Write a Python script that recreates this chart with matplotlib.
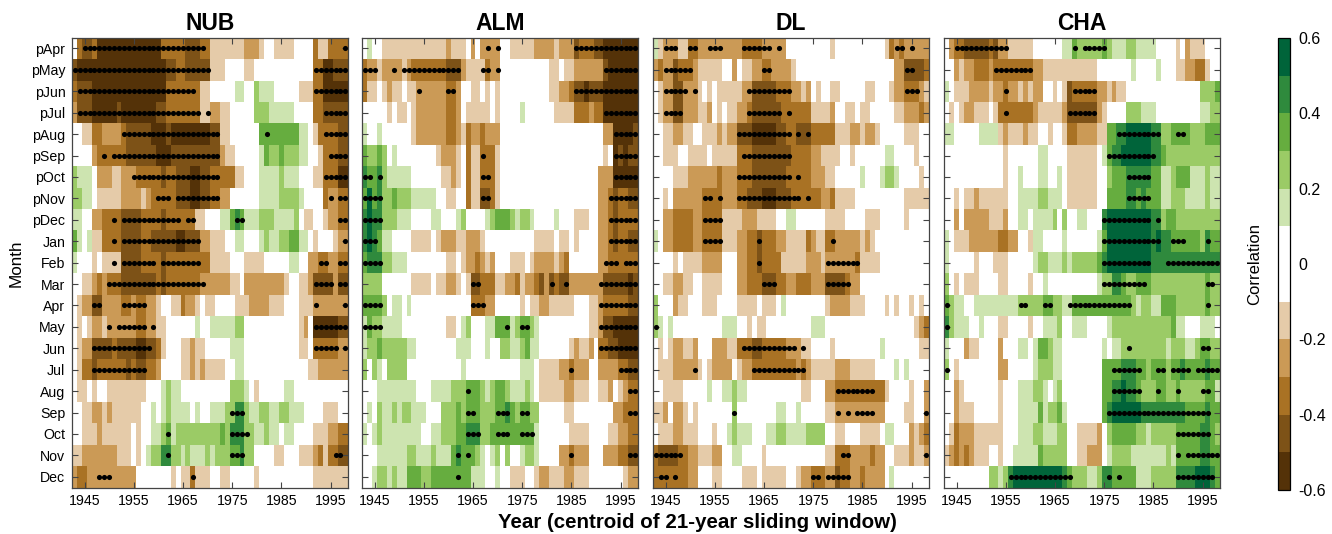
import numpy as np
import matplotlib
matplotlib.use("Agg")
import matplotlib.pyplot as plt
from matplotlib.colors import ListedColormap, BoundaryNorm
from matplotlib.cm import ScalarMappable

plt.rcParams["font.family"] = ["Liberation Sans", "DejaVu Sans"]

MONTHS = ["pApr", "pMay", "pJun", "pJul", "pAug", "pSep", "pOct", "pNov", "pDec", "Jan", "Feb",
          "Mar", "Apr", "May", "Jun", "Jul", "Aug", "Sep", "Oct", "Nov", "Dec"]
YEARS = np.arange(1943, 1999)
XTICKS = [1945, 1955, 1965, 1975, 1985, 1995]
PANELS = ["NUB", "ALM", "DL", "CHA"]

# correlation class of each letter (bin middle), "." = not coloured
LEVELS = {"e": -0.55, "d": -0.45, "c": -0.35, "b": -0.25, "a": -0.15, ".": 0.0,
          "A": 0.15, "B": 0.25, "C": 0.35, "D": 0.45, "E": 0.55}
BOUNDS = [-0.6, -0.5, -0.4, -0.3, -0.2, -0.1, 0.1, 0.2, 0.3, 0.4, 0.5, 0.6]
COLORS = ["#543208", "#7d5217", "#a97224", "#cb9a56", "#e5cba9", "#ffffff",
          "#cde4b0", "#9bcb66", "#66ad3f", "#2f8a3d", "#00643a"]
CBAR_TICKS = [-0.6, -0.4, -0.2, 0, 0.2, 0.4, 0.6]
CBAR_LABELS = ["-0.6", "-0.4", "-0.2", "0", "0.2", "0.4", "0.6"]

# each row: "<two digit year><class>" = class holds from that year on
NUB_CELLS = [
    "43. 44c 45d 47c 48e 61c 66d 69c 71a 78b 81a 82. 84a 88. 92c 93a 95c",
    "43d 44e 62d 64c 66d 71a 74. 78a 80. 92c 94e 96d",
    "43c 44d 47e 62c 69a 71. 76A 78. 80B 81A 84. 89a 92c 94e",
    "43b 44d 47e 52d 53e 60d 62c 69a 71b 73a 75. 80B 83A 88. 92c 94d",
    "43. 45a 47c 49b 53c 54d 59e 62d 63e 71d 73a 75. 81C 89A 91. 92a 93c 97d",
    "43. 47b 48c 54d 60e 63d 73b 74a 76. 81A 82C 83B 85C 86B 89A 91. 93a 94c 97d",
    "43B 44A 47. 48b 51a 53b 56c 61d 62c 64d 67e 69d 71c 76a 78. 81A 85B 86A 89. 92a 94c 97e",
    "43B 45A 47. 48a 53b 57a 58b 59c 64d 67e 69d 71c 73b 75. 81A 85B 89A 90. 94c 95b 97c",
    "43A 45. 47b 49c 53d 57c 61d 62c 68a 70. 73A 75C 76D 77C 78A 81B 84A 88B 89. 90a 92. 94a 95b 97c",
    "43C 44A 45. 46A 47a 49c 53d 57c 59d 64e 66d 69b 71a 74. 76A 78. 81A 82B 83A 85B 87C 89A 91. 92a 93. 96a 97b",
    "43A 44. 47a 48. 49a 53d 57c 61d 62c 71a 75. 78a 82. 87A 89. 91b 93c 95b 97c",
    "43. 45a 47b 48c 49b 50c 53d 60c 61d 62c 69b 75a 77. 78b 86a 87. 89a 91b 92d 96b 97d",
    "43. 44a 45b 47d 49b 53c 55b 56c 58b 60a 61. 63a 65c 66b 68a 69. 70a 72. 76a 79b 83a 86. 89a 92b",
    "43. 44a 45. 46a 47b 49a 50b 56c 58b 60a 62. 68A 69. 71A 76B 78. 89a 90b 91. 92e 97d",
    "43. 44a 45b 47d 51c 52d 56e 58d 60c 61a 62. 65a 67b 68a 70. 75A 78. 89a 91. 92c 97b",
    "43. 44a 45c 47d 48c 54d 55c 56d 58c 60b 61. 65a 67b 68a 69b 70a 74. 76A 78. 91a 93b",
    "43. 44a 46. 47a 48. 50a 58. 61A 62B 63A 65. 75B 78A 79. 80a 81. 86A 88.",
    "43. 45a 47b 49a 50b 51a 57. 59A 60. 61A 62B 63A 67. 68A 69. 71A 74B 76D 78B 79A 81B 83A 85B 87A 90. 94a 97.",
    "43. 45a 48b 49a 55. 56a 57. 59A 61B 62C 63A 64B 68B 73C 74B 75D 78B 80A 82B 83A 85. 86A 88. 92a 95b 97c",
    "43a 45b 52a 55. 56a 57. 58A 59B 61D 63B 65A 66B 67A 70B 71A 72B 75C 77D 78B 80. 84a 86. 89a 92b 93c 94a 95c 97d",
    "43b 44c 46b 56. 63a 64. 65a 67c 68a 71. 73a 75. 80a 81. 92a",
]
NUB_DOTS = [
    "45-69 98", "43-70 92-98", "44-67 92-98", "44-68 70 94-98", "53-72 82 94-98",
    "49 51-72 95-98", "55-72 94-98", "60-62 64-72 95 97-98", "51 53-64 66-67 76-77 97-98",
    "51 53-68 98", "51 53-59 61-68 93-94 97-98", "50-69 92-95 97-98", "47-48 53-57 92 98",
    "50 52-57 59 92-98", "47-58 92-96 98", "47-57", "", "75-77", "62 75-78", "62 75-77 96-97",
    "48-50 67",
]

ALM_CELLS = [
    "43. 44A 45. 47a 60b 61a 64. 65b 66. 67b 71. 73a 78b 82a 83b 86d 87c 90d 92e",
    "43c 44b 46a 47b 51a 52b 53c 60d 63b 64a 68c 69b 71. 81a 83. 84a 86b 92d 93e",
    "43c 44a 46. 47a 48b 49a 51. 52a 54b 60c 62b 63. 65a 67. 68a 69. 70a 71. 81a 83b 85c 86d 88e 89d 92e",
    "43. 48a 49. 50a 52. 53a 54b 60c 62b 63. 64a 69. 70a 71. 75A 76. 82a 86c 89b 90c 92e",
    "43A 44. 46A 47. 53a 54b 60c 62b 63a 64c 65b 67c 68b 71. 92b 94e 98d",
    "43C 44B 46C 47B 48. 49A 50. 58a 59b 62a 63. 64c 65a 67c 70a 71. 92a 93. 94e 95d 96e 97d",
    "43D 44C 46D 47B 48A 53. 59a 61b 62a 63. 64c 65a 67c 70a 71. 91b 94e",
    "43C 44E 45C 46D 47B 49C 50B 53A 58. 60a 62. 64c 65a 67d 69c 70a 71. 91b 93c 94d 95c 97d",
    "43D 44E 45D 47B 50A 53. 57A 59. 62A 63B 64. 68A 69B 70C 73B 74A 75B 77A 78. 82A 83. 86a 89. 91b 93c 94d 95c",
    "43D 44E 45D 46C 47A 49. 53a 57. 58a 59b 62a 64b 67a 68. 78a 82. 83a 85. 86a 87. 91b 93c 94d 95c 97d",
    "43C 44D 47B 49A 52. 60a 62. 63a 64b 66c 67b 68a 69b 70. 73a 76. 77a 78b 82a 83b 84c 85. 91b 93c",
    "43B 47. 53a 57. 58a 60b 62a 63. 64a 65d 67c 70a 72b 74c 75a 76b 78c 79d 80b 81d 82c 83d 85b 92d 97e 98d",
    "43C 47B 48. 49A 51. 52A 53. 65c 68b 70. 75a 76. 77a 79b 81a 86. 89a 91b 92c 97d",
    "43A 44C 45B 47A 51. 60a 62. 63A 64B 65. 68A 70C 73A 74B 75C 77B 78A 79. 89a 91b 92d 94e",
    "43A 44B 46C 47B 52A 54. 62A 65. 68A 69. 71B 73A 75B 76C 77A 79. 85a 86b 87a 89b 90. 91c 93d 95e",
    "43B 44. 45B 46A 47. 48B 52. 63A 64. 75A 78. 79a 83b 85c 86b 89. 91b 95c 97d",
    "43. 46A 54. 57A 61B 64C 67B 68A 69B 70C 72B 73A 76B 77A 78. 79a 84b 86a 89. 91a 93b 94. 95a 96b 97c",
    "43. 44A 45. 46B 47A 49B 50A 51B 53A 56. 59B 62C 63B 64C 67B 70C 72D 73C 74B 75C 77B 79. 84a 86. 94b 96c",
    "43A 44. 45A 46B 47A 55. 57A 59B 62C 64D 67B 69C 78A 79. 85a 89. 93a 95b 97c",
    "43. 46A 52B 54A 57B 58A 61C 62D 63C 66B 67A 68. 69A 70B 71. 72B 73. 75A 76B 78A 79. 83b 85c 86b 89. 92b 95c 97d",
    "43. 45A 46B 48A 49B 50A 52C 55B 57C 65A 68. 70A 71. 73a 76. 78a 79b 81a 84b 86a 89. 96a 97b",
]
ALM_DOTS = [
    "68 70 86-98", "43-45 49 51-62 67-68 70 92-98", "54 60-61 86-98", "92-98", "94-98",
    "67 94-98", "43-44 46 67-68 94-98", "43-46 67-68 93-98", "43-46 93-98", "43-45 93-98",
    "43-46 92-94 96-98", "65-66 81 84 91-98", "43-46 65-67 91-98", "43-46 72 75-76 91-98",
    "91-98", "85 95-98", "64 97-98", "64-65 70-72 75-76 97-98", "64-66 70-72 75-77",
    "62 64 85 97-98", "62",
]

DL_CELLS = [
    "43A 44a 45b 48a 50c 52b 61c 65b 70. 79a 80. 90a 91c 92b 93c 94b",
    "43b 44c 45b 47d 48c 51b 52a 57. 59b 60. 61a 63b 65c 67b 71a 72. 92b 94d 98c",
    "43. 44a 45b 47d 49b 52a 53. 54a 55. 56a 61b 63d 68c 71b 73a 74b 75. 76a 77. 79a 81. 86a 88. 91a 92b 94c 97b 98a",
    "43. 44a 45b 47d 49b 52a 54b 55. 56a 57. 58a 60b 62c 63d 69c 75a 79b 80. 82a 84. 85a 87. 92a 94b 97c 98b",
    "43. 45a 47b 49a 51. 53a 56b 57a 58b 60d 63e 68d 70c 72d 75c 80a 83b 85a 86b 88a 89. 94a 97.",
    "43. 45a 48. 50a 54. 55a 60c 63d 71c 75b 77a 79a 81. 83a 84. 90A 92. 96a 97.",
    "43. 47a 50b 56c 57b 60c 63d 70c 75b 78a 80. 85A 86. 89A 90B 92A 93. 97a 98.",
    "43. 45a 46. 47b 53c 57b 60c 62d 65e 68d 71c 77b 79c 80a 84. 94a",
    "43. 45b 47c 51b 53c 57a 61b 64a 68. 70A 72. 78a 82. 86a 89. 94a 95.",
    "43A 44. 45b 47c 51b 53c 57a 60b 62c 64d 65c 68b 70a 74c 75b 76a 78c 80b 85a 86b 87a 88.",
    "43. 47a 48. 49a 53b 57. 60b 62c 64d 65c 69a 74b 77a 78b 84c 85a 89.",
    "43. 45a 47b 49a 51. 53a 57. 60b 62c 65d 68c 70b 72c 75b 78d 82c 83b 85.",
    "43B 44. 47b 48a 50. 53a 56. 60a 64. 65a 68. 69A 70. 78a 79b 83a 86. 90a 91. 92a 93. 95a 96. 97a 98.",
    "43B 44A 45. 46A 47. 57A 60. 62a 63. 64a 66. 75A 78. 96a 97b 98c",
    "43. 44a 45. 46a 47b 49a 51b 52. 55b 58a 60c 63d 65c 70b 73a 75. 79a 80. 89A 90. 97a",
    "43. 44a 47b 52a 53. 54a 55b 59. 60a 61b 63c 72b 73c 74b 75a 80b 83a 88. 92A 93. 94A 95.",
    "43. 45a 49. 54A 55. 57A 59B 60A 62. 73a 75. 78b 80c 90a 91. 95a 96. 98b",
    "43a 45b 46. 47b 49a 50. 51a 52. 59B 60. 68A 70. 72A 73. 78a 80b 90. 94a 96. 98b",
    "43. 44a 47b 49a 52. 55a 56. 58A 59B 60A 63. 66A 68B 70A 74B 78. 80a 82. 85a 89. 90A 92. 95b 96a 97b 98c",
    "43c 44d 48c 50b 52a 55b 57. 59A 61. 65a 66. 78a 80c 83b 87c 88b 90. 92a 95b 96a 98b",
    "43c 50b 52. 55a 57. 61a 64. 65a 70. 72a 73b 75c 78b 80d 81c 83b 85c 86b 90. 91A 92.",
]
DL_DOTS = [
    "45-47 50-51 54-56 61-66 68 92-93 95", "45-50 65-66 94-95", "45-49 51 62-70 94-96",
    "45-48 62-68 70", "60-70 72 74", "61-70", "60-70 72", "53-54 56 60-72 74", "53-56",
    "53-56 64 79", "64 78-84", "65-67 78-82", "", "43", "61-71 73", "51 63-73", "80-87",
    "59 80 82 84-87 98", "", "43-48 81-82 98", "44-45 47 75-76 78-82",
]

CHA_CELLS = [
    "43. 44b 45c 47d 52c 53d 54b 56a 61. 67A 69C 70B 75C 76B 77A 80B 82A 86. 90a 91. 92b 93a 96.",
    "43. 45b 46a 47b 49c 52b 53c 61b 63a 74. 81A 82. 86A 87. 90a 92b 94c 96a 97.",
    "43A 44. 45a 48b 52a 53b 55c 56b 58a 59b 60a 61b 63. 65a 66. 67a 68d 69c 74b 76a 77b 78a 80. 95B 98C",
    "43. 44a 45. 46a 47b 49a 52. 53a 54c 61b 62a 67b 68d 74b 75a 76. 80B 83A 86. 95A 97B",
    "43A 45. 50A 54a 55b 56a 59b 60a 62. 64a 65. 67a 68c 70b 74a 76C 78D 80E 85D 87B 89C 93B 96C",
    "43. 55a 56. 62A 64. 68a 74. 75A 76C 77D 79E 85D 87C 88B",
    "43. 55a 56. 58A 59. 62A 64. 66A 67. 68a 74. 76B 77C 80D 85C 87A 89B 90C 93A 96B 97A",
    "43. 45a 46. 47a 49b 50a 56. 58A 62B 64A 67. 68a 74. 76C 80D 82C 83D 84C 87A 89B 92A 96B 97A",
    "43. 45b 46. 47b 52a 55b 56. 58A 60. 61A 65B 66. 67B 68. 70A 72. 75D 76E 85D 87B 88C 90B",
    "43A 44. 45a 48b 54c 56b 58. 60a 61A 63. 67A 68. 74A 75C 76E 85D 86E 87D 89C 95B 96D 97C",
    "43A 44. 49a 50. 53a 56. 61A 62B 64A 67B 68A 69B 74C 75D 76E 85D",
    "43B 44. 45a 46. 47a 50. 54a 56. 60a 61. 63A 64. 74A 75B 77D 79C 80B 82C 85B 96C 97B",
    "43C 44B 45A 47. 49A 58B 63C 65B 67A 69C 81B 82A 83B 85A 87C 90B 96C 97B",
    "43D 44B 45A 48. 50A 51. 54a 56. 60a 61. 63A 66B 67. 69A 72. 76A 77B 89C 90A 92. 95A 98.",
    "43A 44. 47b 48a 50. 54b 55. 58A 60. 61A 62C 64B 65A 67. 75A 76. 77A 79B 88A 89B 92A 94B 95C 97B",
    "43B 44. 45a 46. 54b 56. 61A 62B 65A 67. 75C 79D 82C 84B 85C 88B 89C 91D 92C 96D 97C",
    "43. 45b 46a 47. 54a 55. 58A 61B 63A 64. 65A 66B 67. 75C 77D 79E 80D 82C 83B 86C 88B 90C 91B 96C 98A",
    "43. 45b 46a 49. 54a 55. 58A 62C 63A 64B 66C 67A 68. 75C 76D 77E 83D 92C 96D 97C",
    "43. 44a 45c 46b 49a 55. 58A 61B 63A 66B 68. 70a 74b 75. 76B 77C 82B 84A 85B 90C 95D 97C 98B",
    "43a 44b 45c 46b 47c 48b 49a 52. 54a 55. 57A 62C 63B 68. 70a 72b 75. 76A 77B 81A 88B 89A 90C 95D 97C",
    "43. 52B 54A 55B 56D 57E 67D 68C 69B 72A 74B 75D 77C 82A 85B 90D 94E 97D 98C",
]
CHA_DOTS = [
    "45-55 69 71-75", "53-60", "55 69-73", "55 68-73", "78-86 90-91", "76-85", "80-84",
    "80-84", "75-84 86", "75-86 89-91 96", "75-84 88-98", "75-83 96-97",
    "43 58-59 63-64 68-80 96", "43", "80 95-96", "43 77-82 86-87 89-92 94-98",
    "77-82 86 90 95-96", "76-96", "90-96", "90 92-98", "56-68 76 78 90-97",
]

ALL_CELLS = [NUB_CELLS, ALM_CELLS, DL_CELLS, CHA_CELLS]
ALL_DOTS = [NUB_DOTS, ALM_DOTS, DL_DOTS, CHA_DOTS]


def cells_to_grid(rows):
    grid = np.zeros((len(rows), len(YEARS)))
    for i, row in enumerate(rows):
        for token in row.split():
            start = 1900 + int(token[:2])
            grid[i, YEARS >= start] = LEVELS[token[2]]
    return grid


def dots_to_points(rows):
    xs = []
    ys = []
    for i, row in enumerate(rows):
        for part in row.split():
            first, _, last = part.partition("-")
            last = last or first
            for year in range(1900 + int(first), 1900 + int(last) + 1):
                xs.append(year)
                ys.append(i)
    return xs, ys


W, H = 1332, 534
fig = plt.figure(figsize=(W / 100, H / 100), dpi=100)
cmap = ListedColormap(COLORS)
norm = BoundaryNorm(BOUNDS, cmap.N)

lefts = [72.3, 362.3, 653.3, 944.3]
top, bottom = 37.7, 487.5
panel_w = 275.5

for k, name in enumerate(PANELS):
    ax = fig.add_axes([lefts[k] / W, 1 - bottom / H, panel_w / W, (bottom - top) / H])
    grid = cells_to_grid(ALL_CELLS[k])
    x_edges = np.arange(YEARS[0] - 0.5, YEARS[-1] + 1)
    y_edges = np.arange(len(MONTHS) + 1) - 0.5
    ax.pcolormesh(x_edges, y_edges, grid, cmap=cmap, norm=norm, antialiased=False)
    xs, ys = dots_to_points(ALL_DOTS[k])
    ax.plot(xs, ys, "o", color="black", ms=3.7, mew=0, clip_on=True)

    ax.set_xlim(x_edges[0], x_edges[-1])
    ax.set_ylim(y_edges[-1], y_edges[0])
    ax.set_xticks(XTICKS)
    ax.set_yticks(range(len(MONTHS)))
    ax.tick_params(direction="in", length=4, width=0.8, top=True, right=True,
                   labelsize=10.2, pad=5, color="#444444")
    if k == 0:
        ax.set_yticklabels(MONTHS)
    else:
        ax.set_yticklabels([])
    for spine in ax.spines.values():
        spine.set_linewidth(0.9)
        spine.set_color("#444444")
    ax.set_title(name, fontsize=16.5, fontweight="bold", pad=5.5)

fig.text(16 / W, 1 - 263 / H, "Month", rotation=90, ha="center", va="center", fontsize=12.3)
fig.text(697 / W, 1 - 522 / H, "Year (centroid of 21-year sliding window)", ha="center", va="center",
         fontsize=14.75, fontweight="bold")

cax = fig.add_axes([1278 / W, 1 - 490 / H, 12 / W, 452 / H])
cb = fig.colorbar(ScalarMappable(norm=norm, cmap=cmap), cax=cax, spacing="proportional",
                  boundaries=BOUNDS, ticks=CBAR_TICKS)
cb.ax.set_yticklabels(CBAR_LABELS)
cb.ax.minorticks_off()
cb.ax.tick_params(labelsize=11.5, length=0, pad=6)
cb.outline.set_linewidth(0.9)
fig.text(1255 / W, 1 - 264 / H, "Correlation", rotation=90, ha="center", va="center", fontsize=12)

fig.savefig("out.png", dpi=100)
